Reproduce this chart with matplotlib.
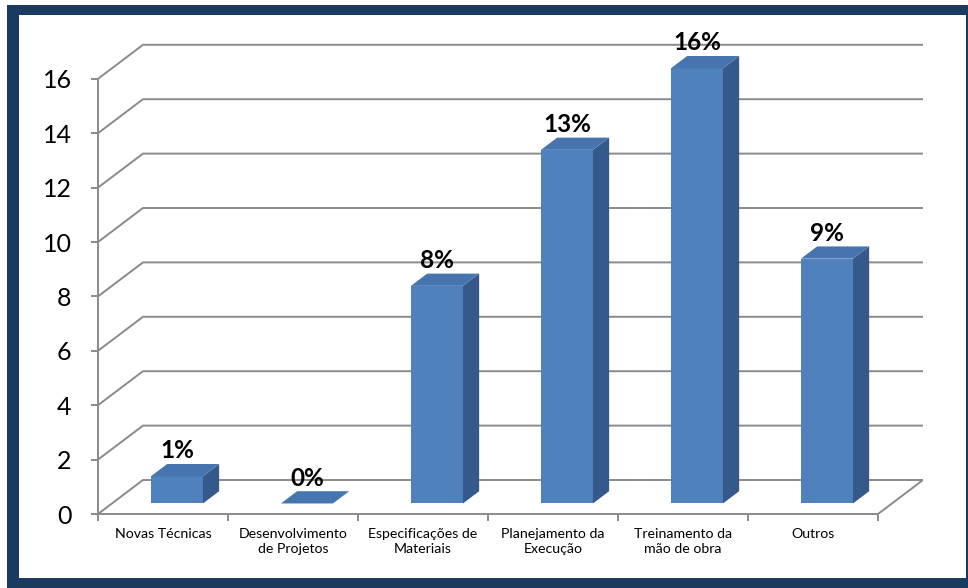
import matplotlib.pyplot as plt
from matplotlib.patches import Polygon, Rectangle

# Dados do gráfico
categorias = ['Novas Técnicas', 'Desenvolvimento\nde Projetos', 'Especificações de\nMateriais',
              'Planejamento da\nExecução', 'Treinamento da\nmão de obra', 'Outros']
valores = [1, 0, 8, 13, 16, 9]
rotulos = ['1%', '0%', '8%', '13%', '16%', '9%']
yticks = [0, 2, 4, 6, 8, 10, 12, 14, 16]

# Cores (estilo Excel)
azul_frente = '#4F81BD'
azul_topo = '#4674AE'
azul_lado = '#35598A'
cinza = '#8A8A8A'
moldura = '#1B3A5F'

plt.rcParams['font.family'] = ['Lato', 'DejaVu Sans']

# Profundidade do "3D" em unidades de dados
DX = 0.346
DY = 1.25
d0, d1 = 0.31, 0.67  # frente e fundo das barras (fração da profundidade)
largura = 0.4

fig = plt.figure(figsize=(9.68, 5.88), dpi=100)
W, H = 968, 588

# Moldura azul escura
fig.patches.append(Rectangle((7 / W, 0), 1 - 7 / W, 1 - 5 / H, transform=fig.transFigure,
                             facecolor=moldura, edgecolor='none', zorder=-2))
fig.patches.append(Rectangle((19 / W, 10 / H), (966 - 19) / W, (578 - 15) / H, transform=fig.transFigure,
                             facecolor='white', edgecolor='none', zorder=-1))

ymax = 17.4
ax = fig.add_axes([98 / W, 74 / H, 825 / W, ymax * 27.2 / H])
ax.set_facecolor('none')
ax.set_xlim(-0.5, len(categorias) - 0.5 + DX)
ax.set_ylim(0, ymax)

# Paredes: linhas de grade com a diagonal lateral
xe, xd = -0.5, len(categorias) - 0.5
for y in yticks:
    ax.plot([xe, xe + DX, xd + DX], [y, y + DY, y + DY], color=cinza, lw=1.4, zorder=1,
            solid_capstyle='butt')
ax.plot([xd, xd + DX], [0, DY], color=cinza, lw=1.4, zorder=1)

# Barras 3D
for i, v in enumerate(valores):
    x0 = i - largura / 2 + d0 * DX
    x1 = x0 + largura
    y0 = d0 * DY
    ddx = (d1 - d0) * DX
    ddy = (d1 - d0) * DY
    frente = Polygon([(x0, y0), (x1, y0), (x1, y0 + v), (x0, y0 + v)],
                     facecolor=azul_frente, edgecolor='none', zorder=3)
    lado = Polygon([(x1, y0), (x1 + ddx, y0 + ddy), (x1 + ddx, y0 + v + ddy), (x1, y0 + v)],
                   facecolor=azul_lado, edgecolor='none', zorder=3)
    topo = Polygon([(x0, y0 + v), (x1, y0 + v), (x1 + ddx, y0 + v + ddy), (x0 + ddx, y0 + v + ddy)],
                   facecolor=azul_topo, edgecolor='none', zorder=3)
    for p in (frente, lado, topo):
        ax.add_patch(p)
    ax.annotate(rotulos[i], xy=((x0 + x1) / 2, y0 + v + ddy), xytext=(0, 4),
                textcoords='offset points', ha='center', va='baseline',
                fontsize=17.5, fontweight='bold', color='black', zorder=4)

# Eixos
for s in ('top', 'right'):
    ax.spines[s].set_visible(False)
ax.spines['left'].set_bounds(0, 16)
ax.spines['bottom'].set_bounds(xe, xd)
for s in ('left', 'bottom'):
    ax.spines[s].set_color(cinza)
    ax.spines[s].set_linewidth(1.4)

ax.set_yticks(yticks)
ax.tick_params(axis='y', length=5, width=1.4, color=cinza, pad=14, labelsize=18)

ax.set_xticks([i - 0.5 for i in range(len(categorias) + 1)])
ax.set_xticklabels([])
ax.set_xticks(range(len(categorias)), minor=True)
ax.set_xticklabels(categorias, minor=True, fontsize=10.2, linespacing=1.35)
ax.tick_params(axis='x', which='major', length=5, width=1.4, color=cinza)
ax.tick_params(axis='x', which='minor', length=0, pad=10)

fig.savefig('out.png', dpi=100)
